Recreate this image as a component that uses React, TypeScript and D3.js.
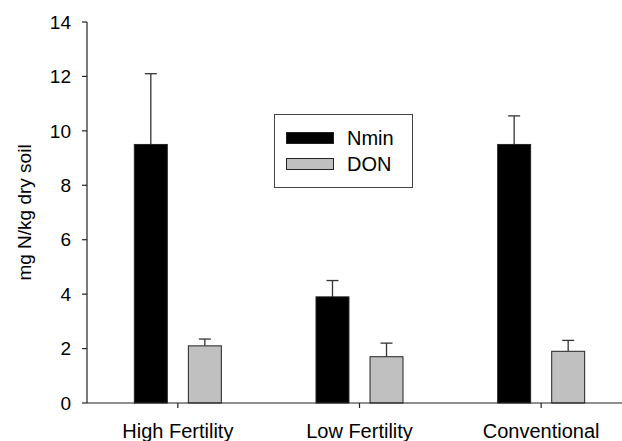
import React from "react";
import * as d3 from "d3";

const categories = ["High Fertility", "Low Fertility", "Conventional"];
const seriesNames = ["Nmin", "DON"];
const nminValues = [9.5, 3.9, 9.5];
const nminErrors = [2.6, 0.6, 1.05];
const donValues = [2.1, 1.7, 1.9];
const donErrors = [0.25, 0.5, 0.4];
const yTicks = [0, 2, 4, 6, 8, 10, 12, 14];

const colors: Record<string, string> = { Nmin: "#000000", DON: "#c0c0c0" };
const FONT = "Arial, 'Liberation Sans', sans-serif";

export default function App() {
  const width = 622;
  const height = 441;
  const left = 87;
  const top = 22;
  const bottom = 403;

  const x = d3.scaleBand<string>().domain(categories).range([left, 632]);
  const inner = d3
    .scaleBand<string>()
    .domain(seriesNames)
    .range([-43.5, 43.5])
    .paddingInner(0.39);
  const y = d3.scaleLinear().domain([0, 14]).range([bottom, top]);

  const rows = categories.flatMap((c, i) => [
    { cat: c, key: "Nmin", v: nminValues[i], e: nminErrors[i] },
    { cat: c, key: "DON", v: donValues[i], e: donErrors[i] },
  ]);

  const center = (c: string) => (x(c) as number) + x.bandwidth() / 2;

  return (
    <svg
      width={width}
      height={height}
      style={{ position: "absolute", left: 0, top: 0, background: "#fff" }}
      fontFamily={FONT}
    >
      {/* error bars, drawn first so the bar covers the lower part */}
      {rows.map((d, i) => {
        const cx = center(d.cat) + (inner(d.key) as number) + inner.bandwidth() / 2;
        return (
          <g key={"e" + i} stroke="#333" strokeWidth={1.3}>
            <line x1={cx} x2={cx} y1={y(d.v)} y2={y(d.v + d.e)} />
            <line x1={cx - 6} x2={cx + 6} y1={y(d.v + d.e)} y2={y(d.v + d.e)} />
          </g>
        );
      })}

      {rows.map((d, i) => {
        const bx = center(d.cat) + (inner(d.key) as number);
        return (
          <rect
            key={"b" + i}
            x={bx}
            y={y(d.v)}
            width={inner.bandwidth()}
            height={bottom - y(d.v)}
            fill={colors[d.key]}
            stroke="#222"
            strokeWidth={1}
          />
        );
      })}

      {/* y axis */}
      <line x1={left} x2={left} y1={top} y2={bottom} stroke="#222" strokeWidth={1.2} />
      {yTicks.map((t) => (
        <g key={"t" + t}>
          <line x1={left - 5} x2={left} y1={y(t)} y2={y(t)} stroke="#222" strokeWidth={1.2} />
          <text
            x={left - 16}
            y={y(t)}
            dy="0.35em"
            textAnchor="end"
            fontSize={19}
            fill="#000"
          >
            {t}
          </text>
        </g>
      ))}
      <text
        transform={`translate(31,${(top + bottom) / 2}) rotate(-90)`}
        textAnchor="middle"
        fontSize={19}
        fill="#000"
      >
        mg N/kg dry soil
      </text>

      {/* x axis */}
      <line x1={left} x2={632} y1={bottom} y2={bottom} stroke="#222" strokeWidth={1.2} />
      {categories.map((c) => (
        <g key={c}>
          <line x1={center(c)} x2={center(c)} y1={bottom} y2={bottom + 5} stroke="#222" strokeWidth={1.2} />
          <text x={center(c)} y={438} textAnchor="middle" fontSize={20} fill="#000">
            {c}
          </text>
        </g>
      ))}

      {/* legend */}
      <rect x={274.5} y={114.5} width={138} height={73} fill="#fff" stroke="#444" strokeWidth={1} />
      {seriesNames.map((s, i) => (
        <g key={s}>
          <rect
            x={286.5}
            y={132.5 + i * 26}
            width={47}
            height={11}
            fill={colors[s]}
            stroke="#222"
            strokeWidth={1}
          />
          <text x={347} y={138 + i * 26} dy="0.35em" fontSize={20} fill="#000">
            {s}
          </text>
        </g>
      ))}
    </svg>
  );
}
